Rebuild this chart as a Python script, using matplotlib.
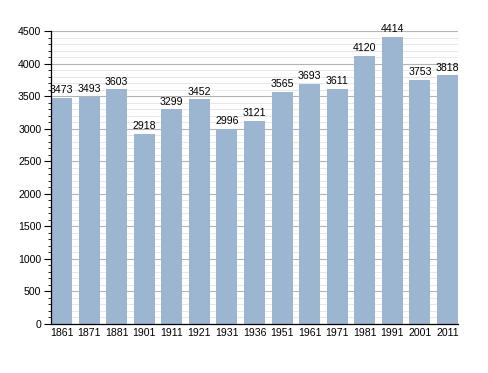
import matplotlib
matplotlib.use("Agg")
import matplotlib.pyplot as plt
from matplotlib.ticker import MultipleLocator

years = ["1861", "1871", "1881", "1901", "1911", "1921", "1931", "1936",
         "1951", "1961", "1971", "1981", "1991", "2001", "2011"]
population = [3473, 3493, 3603, 2918, 3299, 3452, 2996, 3121,
              3565, 3693, 3611, 4120, 4414, 3753, 3818]

plt.rcParams['font.family'] = ['Liberation Sans', 'DejaVu Sans']

fig = plt.figure(figsize=(4.88, 3.73), dpi=100)
ax = fig.add_axes([51/488, 1-324/373, (458-51)/488, (324-31)/373])

x = list(range(len(years)))
ax.bar(x, population, width=0.76, color='#9cb5d1', zorder=3)
for xi, v in zip(x, population):
    ax.text(xi, v + 40, str(v), ha='center', va='bottom', fontsize=7.6, zorder=4)

ax.set_xlim(-0.38, len(years) - 1 + 0.38)
ax.set_ylim(0, 4500)
ax.set_xticks(x)
ax.set_xticklabels(years, fontsize=7.6)
ax.tick_params(axis='x', length=0, pad=3)
ax.yaxis.set_major_locator(MultipleLocator(500))
ax.yaxis.set_minor_locator(MultipleLocator(100))
ax.tick_params(axis='y', which='major', length=5, width=0.8, labelsize=7.6, pad=2)
ax.tick_params(axis='y', which='minor', length=2.5, width=0.6)
ax.grid(axis='y', which='major', color='#b4b4b4', linewidth=0.8, zorder=0)
ax.grid(axis='y', which='minor', color='#e4e4e4', linewidth=0.6, zorder=0)
for s in ['top', 'right']:
    ax.spines[s].set_visible(False)
ax.spines['left'].set_linewidth(0.9)
ax.spines['bottom'].set_linewidth(0.9)
ax.spines['left'].set_zorder(5)
ax.spines['bottom'].set_zorder(5)

fig.savefig("out.png", dpi=100)
